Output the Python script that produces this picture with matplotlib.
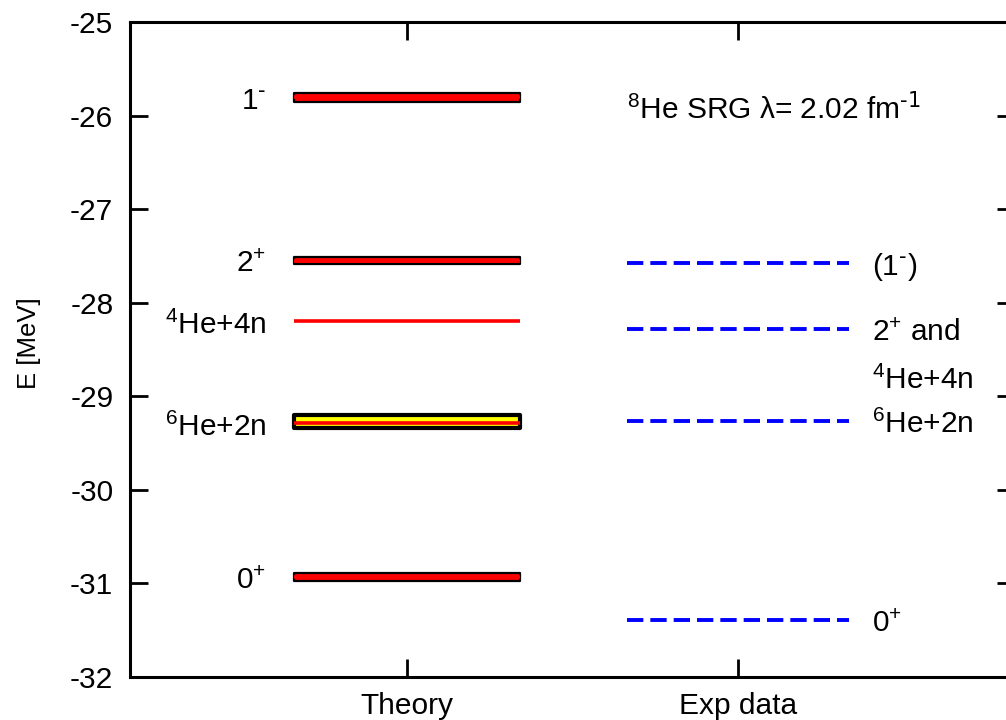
import numpy as np
import matplotlib
matplotlib.use('Agg')
import matplotlib.pyplot as plt

plt.rcParams['font.family'] = ['Liberation Sans', 'DejaVu Sans']
plt.rcParams['mathtext.default'] = 'regular'

# level energies in MeV
categories = ['Theory', 'Exp data']
theory_labels = [r'1$^{\text{-}}$', '2$^{+}$', '$^{4}$He+4n', '$^{6}$He+2n', '0$^{+}$']
theory_E = [-25.80, -27.55, -28.20, -29.29, -30.93]
theory_lo = [-25.85, -27.59, np.nan, -29.34, -30.97]
theory_hi = [-25.76, -27.51, np.nan, -29.20, -30.89]
exp_labels = [r'(1$^{\text{-}}$)', '2$^{+}$ and', '$^{6}$He+2n', '0$^{+}$']
exp_E = [-27.58, -28.28, -29.26, -31.39]
yticks = np.arange(-32, -24, 1)

fs = 21.5

fig = plt.figure(figsize=(10.06, 7.2), dpi=100)
ax = fig.add_axes([0.1292, 0.0597, 0.8797, 0.9097])

xt = [0.66, 1.34]
xe = [1.665, 2.335]

for i, E in enumerate(theory_E):
    if not np.isnan(theory_lo[i]):
        thr = 'He' in theory_labels[i]
        ax.fill_between(xt, theory_lo[i], theory_hi[i],
                        facecolor='yellow' if thr else 'red',
                        edgecolor='black', lw=3.0 if thr else 1.6, zorder=2)
    ax.plot(xt, [E, E], color='red', lw=2.6, solid_capstyle='butt', zorder=3)
    ax.text(0.575, E - 0.04, theory_labels[i], ha='right', va='center', fontsize=fs)

for i, E in enumerate(exp_E):
    ax.plot(xe, [E, E], color='#0000ff', lw=2.8, dashes=(4.2, 1.8), zorder=3)
    ax.text(2.405, E - 0.04, exp_labels[i], ha='left', va='center', fontsize=fs)
ax.text(2.405, exp_E[1] - 0.55, '$^{4}$He+4n', ha='left', va='center', fontsize=fs)

ax.text(1.665, -25.92, r'$^{8}$He SRG λ= 2.02 fm$^{\text{-1}}$', ha='left', va='center',
        fontsize=fs)

ax.set_xlim(0.163, 2.837)
ax.set_ylim(-32, -25)
ax.set_xticks([1, 2])
ax.set_xticklabels(categories)
ax.set_yticks(yticks)
ax.set_yticklabels([str(v) for v in yticks])
ax.set_ylabel('E [MeV]', fontsize=18.5)
ax.yaxis.set_label_coords(-0.100, 0.51)

ax.tick_params(axis='both', direction='in', length=13, width=2, labelsize=fs,
               top=True, right=True)
ax.tick_params(axis='y', pad=12)
ax.tick_params(axis='x', pad=11)
for s in ax.spines.values():
    s.set_linewidth(2.2)

fig.savefig('out.png', dpi=100)
